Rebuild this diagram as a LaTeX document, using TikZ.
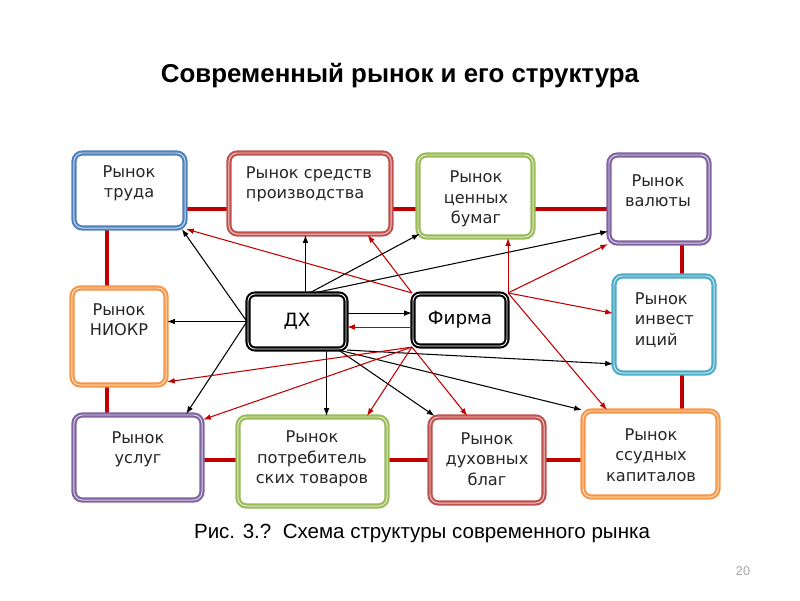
\documentclass[tikz,border=0pt]{standalone}
\usepackage{fontspec}
\setmainfont{Liberation Sans}
\newfontfamily\boxfont{DejaVu Sans}
\usetikzlibrary{arrows.meta,positioning,backgrounds}
\definecolor{mblue}{RGB}{79,129,189}
\definecolor{mred}{RGB}{192,80,77}
\definecolor{mgreen}{RGB}{155,187,89}
\definecolor{mviolet}{RGB}{128,100,162}
\definecolor{morange}{RGB}{247,150,70}
\definecolor{mteal}{RGB}{75,172,198}
\definecolor{linkred}{RGB}{192,0,0}

\begin{document}
\begin{tikzpicture}[
		x=0.025cm, y=-0.025cm,
		>={Latex[length=5.5pt,width=4pt]},
		market/.style={
			draw=#1,
			fill=white,
			rectangle,
			rounded corners=6pt,
			inner sep=0pt,
			line width=1.5pt,
			double=#1!30,
			double distance=0.7pt
		},
		agent/.style={
			draw=black,
			fill=white,
			rectangle,
			rounded corners=5pt,
			inner sep=0pt,
			line width=1.5pt,
			double=white,
			double distance=0.6pt,
			font=\boxfont\fontsize{13}{15}\selectfont
		},
		mtext/.style={font=\boxfont\fontsize{11.5}{14.5}\selectfont, align=center, text=black!85},
		link/.style={draw=linkred, line width=2.2pt},
		dharrow/.style={->, draw=black, line width=0.75pt},
		fmarrow/.style={->, draw=linkred, line width=0.75pt}
		]
		
		\useasboundingbox (0,0) rectangle (800,600);
		
		% Title and caption
		\node[font=\bfseries\fontsize{18.4}{22}\selectfont] (title) at (400,76) {Современный рынок и его структура};
		\node[font=\fontsize{14.6}{17}\selectfont] (caption) at (422,533) {Рис. 3.?\ \ Схема структуры современного рынка};
		\node[text=gray!70, font=\fontsize{9}{11}\selectfont] (page) at (743,571) {20};
		
		% Markets, top row
		\node[market=mblue, minimum width=2.775cm, minimum height=1.875cm] (trud) at (129.5,190.5) {};
		\node[market=mred, minimum width=4.05cm, minimum height=2.025cm] (sredstv) at (310,193.5) {};
		\node[market=mgreen, minimum width=2.875cm, minimum height=2.05cm] (cennyh) at (475.5,196) {};
		\node[market=mviolet, minimum width=2.5cm, minimum height=2.2cm] (valyuty) at (659,199) {};
		
		% Markets, middle row
		\node[market=morange, minimum width=2.35cm, minimum height=2.425cm] (niokr) at (119,336.5) {};
		\node[market=mteal, minimum width=2.5cm, minimum height=2.425cm] (invest) at (664,324.5) {};
		
		% Markets, bottom row
		\node[market=mviolet, minimum width=3.2cm, minimum height=2.125cm] (uslug) at (138,457.5) {};
		\node[market=mgreen, minimum width=3.725cm, minimum height=2.225cm] (potreb) at (312.5,461.5) {};
		\node[market=mred, minimum width=2.85cm, minimum height=2.15cm] (duhov) at (487,460) {};
		\node[market=morange, minimum width=3.375cm, minimum height=2.15cm] (ssud) at (650.5,454) {};
		
		% Agents
		\node[agent, minimum width=2.45cm, minimum height=1.375cm] (dh) at (297,321.5) {ДХ};
		\node[agent, minimum width=2.35cm, minimum height=1.3cm] (firma) at (460,320) {Фирма};
		
		% Market texts
		\node[mtext] (trudT) at (129,183) {Рынок\\труда};
		\node[mtext, align=left] (sredstvT) at (309,184) {Рынок средств\\производства};
		\node[mtext] (cennyhT) at (476,199) {Рынок\\ценных\\бумаг};
		\node[mtext] (valyutyT) at (658,191) {Рынок\\валюты};
		\node[mtext] (niokrT) at (119,320) {Рынок\\НИОКР};
		\node[mtext, align=left, anchor=west] (investT) at (630,320) {Рынок\\инвест\\иций};
		\node[mtext] (uslugT) at (138,449) {Рынок\\услуг};
		\node[mtext] (potrebT) at (312,459) {Рынок\\потребитель\\ских товаров};
		\node[mtext] (duhovT) at (487,459) {Рынок\\духовных\\благ};
		\node[mtext] (ssudT) at (651,455) {Рынок\\ссудных\\капиталов};
		
		% Frame lines between markets
		\coordinate (topline) at (0,209);
		\coordinate (botline) at (0,460);
		\coordinate (leftline) at (107,0);
		\coordinate (rightline) at (682,0);
		\begin{scope}[on background layer]
			\draw[link] (trud.east |- topline) -- (sredstv.west |- topline);
			\draw[link] (sredstv.east |- topline) -- (cennyh.west |- topline);
			\draw[link] (cennyh.east |- topline) -- (valyuty.west |- topline);
			\draw[link] (trud.south -| leftline) -- (niokr.north -| leftline);
			\draw[link] (niokr.south -| leftline) -- (uslug.north -| leftline);
			\draw[link] (uslug.east |- botline) -- (potreb.west |- botline);
			\draw[link] (potreb.east |- botline) -- (duhov.west |- botline);
			\draw[link] (duhov.east |- botline) -- (ssud.west |- botline);
			\draw[link] (valyuty.south -| rightline) -- (invest.north -| rightline);
			\draw[link] (invest.south -| rightline) -- (ssud.north -| rightline);
		\end{scope}
		
		% Arrows from households
		\draw[dharrow] (dh.west) -- (dh.west -| niokr.east);
		\draw[dharrow] (dh.west) -- ([xshift=-3pt]trud.south east);
		\draw[dharrow] (dh.west) -- ([xshift=-12pt]uslug.north east);
		\draw[dharrow] ([xshift=6pt]dh.north) -- ([xshift=6pt]dh.north |- sredstv.south);
		\draw[dharrow] ([xshift=9pt]dh.north) -- ([shift={(2pt,3pt)}]cennyh.south west);
		\draw[dharrow] ([xshift=12pt]dh.north) -- ([yshift=9pt]valyuty.south west);
		\draw[dharrow] ([yshift=6pt]dh.east) -- ([yshift=6pt]dh.east -| firma.west);
		\draw[dharrow] ([xshift=21pt]dh.south) -- ([xshift=21pt]dh.south |- potreb.north);
		\draw[dharrow] ([xshift=-6pt]dh.south east) -- ([xshift=4pt]duhov.north west);
		\draw[dharrow] ([xshift=-6pt]dh.south east) -- (ssud.north west);
		\draw[dharrow] (dh.south east) -- ([yshift=-28pt]invest.west);
		
		% Arrows from the firm
		\draw[fmarrow] ([yshift=-5pt]firma.west) -- ([yshift=-5pt]firma.west -| dh.east);
		\draw[fmarrow] (firma.north west) -- (trud.south east);
		\draw[fmarrow] (firma.north west) -- ([xshift=41pt]sredstv.south);
		\draw[fmarrow] (firma.north east) -- (firma.north east |- cennyh.south);
		\draw[fmarrow] (firma.north east) -- (valyuty.south west);
		\draw[fmarrow] (firma.north east) -- ([yshift=8pt]invest.west);
		\draw[fmarrow] (firma.north east) -- ([xshift=-31pt]ssud.north);
		\draw[fmarrow] (firma.south west) -- ([xshift=-14pt]duhov.north);
		\draw[fmarrow] (firma.south west) -- ([xshift=-15pt]potreb.north east);
		\draw[fmarrow] (firma.south west) -- ([yshift=-4pt]uslug.north east);
		\draw[fmarrow] (firma.south west) -- ([yshift=3pt]niokr.south east);
		
	\end{tikzpicture}
\end{document}
